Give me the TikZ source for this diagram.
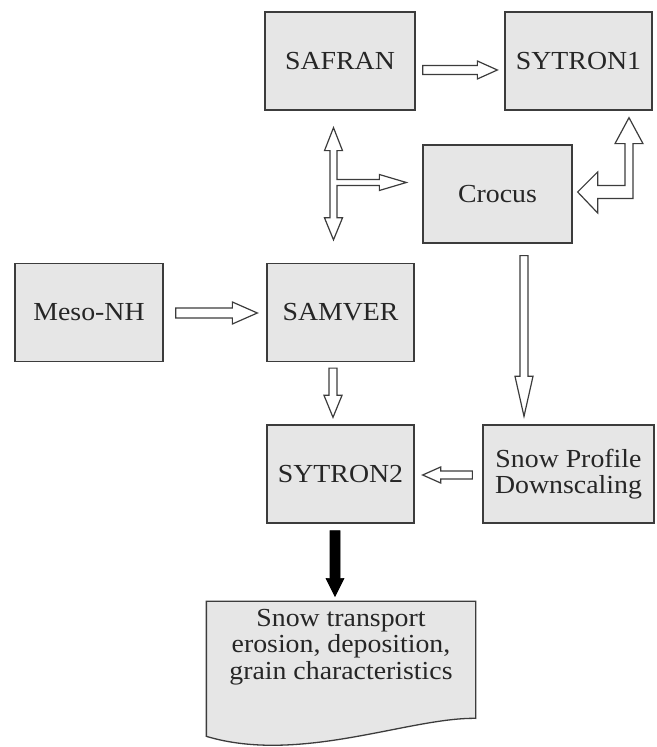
\documentclass[tikz,border=0pt]{standalone}
\usepackage{fontspec}
\setmainfont{Liberation Serif}[FakeStretch=1.07]
\usetikzlibrary{calc,backgrounds}
\definecolor{boxfill}{HTML}{E6E6E6}
\definecolor{boxline}{HTML}{3C3C3C}
\definecolor{txt}{HTML}{262626}
\tikzset{
  box/.style={draw=boxline, fill=boxfill, line width=1.3pt, inner sep=0pt,
    minimum height=98pt, align=center, text=txt,
    font=\fontsize{26}{26.5}\selectfont},
  blockarr/.style={draw=boxline, fill=white, line width=1.2pt, line join=miter},
  solidarr/.style={draw=black, fill=black, line width=0.6pt}
}
% #1 style, #2 start, #3 end, #4 shaft half width, #5 head half width, #6 head length
\newcommand\barrow[6]{%
  \path[#1] let \p1=(#2), \p2=(#3), \n1={atan2(\y2-\y1,\x2-\x1)},
      \n2={veclen(\x2-\x1,\y2-\y1)} in
    ($(\p1)+(\n1+90:#4)$) -- ++(\n1:\n2-#6) -- ++(\n1+90:#5-#4) -- (\p2)
    -- ($(\p2)+(\n1+180:#6)+(\n1-90:#5)$) -- ++(\n1+90:#5-#4)
    -- ++(\n1+180:\n2-#6) -- cycle;}
\begin{document}
\begin{tikzpicture}[x=1pt,y=1pt]
\useasboundingbox (0,0) rectangle (656,747);
\begin{scope}[shift={(0,747)}, yscale=-1]
  \node[box, minimum width=150pt] (safran) at (340,61) {SAFRAN};
  \node[box, minimum width=147pt] (sytron1) at (578.5,61) {SYTRON1};
  \node[box, minimum width=149pt] (crocus) at (497.5,194) {Crocus};
  \node[box, minimum width=148pt] (meso) at (89,312.5) {Meso-NH};
  \node[box, minimum width=147pt] (samver) at (340.5,312.5) {SAMVER};
  \node[box, minimum width=147pt] (sytron2) at (340.5,474) {SYTRON2};
  \node[box, minimum width=171pt] (snow) at (568.5,474) {Snow Profile\\Downscaling};
  \node[box, draw=none, fill=none, minimum width=268pt, minimum height=90pt]
    (out) at (341,647) {Snow transport\\erosion, deposition,\\grain characteristics};
\end{scope}
\begin{scope}[on background layer]
  \draw[draw=boxline, fill=boxfill, line width=1.3pt]
    (out.north west) -- (out.north east) -- ([yshift=-117pt]out.north east)
    .. controls ($(out.north west)+(203,-116)$) and ($(out.north west)+(93,-163)$)
    .. ([yshift=-135pt]out.north west) -- cycle;
\end{scope}
% straight block arrows
\barrow{blockarr}{[xshift=7pt,yshift=-9pt]safran.east}{[xshift=-7pt,yshift=-9pt]sytron1.west}{4.5}{9}{20}
\barrow{blockarr}{[xshift=12pt,yshift=-0.5pt]meso.east}{[xshift=-9pt,yshift=-0.5pt]samver.west}{5}{11}{25}
\barrow{blockarr}{[xshift=26.5pt,yshift=-12pt]crocus.south}{[xshift=-44.5pt,yshift=8pt]snow.north}{4}{9}{40}
\barrow{blockarr}{[xshift=-7.5pt,yshift=-6pt]samver.south}{[xshift=-7.5pt,yshift=7pt]sytron2.north}{4}{9}{22}
\barrow{blockarr}{[xshift=-10pt,yshift=-1pt]snow.west}{[xshift=8pt,yshift=-1pt]sytron2.east}{4}{8}{18}
\barrow{solidarr}{[xshift=-5.5pt,yshift=-7pt]sytron2.south}{[xshift=-6pt,yshift=5pt]out.north}{5}{9}{18}
% T-shaped double arrow: SAFRAN <-> SAMVER, branch to Crocus
\coordinate (tT) at ([xshift=-6.5pt,yshift=-17pt]safran.south);
\coordinate (tB) at ([xshift=-7pt,yshift=23pt]samver.north);
\coordinate (tR) at ([xshift=-16pt,yshift=11.5pt]crocus.west);
\path[blockarr] let \p1=(tT), \p2=(tB), \p3=(tR) in
  (\x1,\y1) -- (\x1+9,\y1-23) -- (\x1+3.5,\y1-23) -- (\x1+3.5,\y3+3)
  -- (\x3-27,\y3+3) -- (\x3-27,\y3+8) -- (\x3,\y3) -- (\x3-27,\y3-8)
  -- (\x3-27,\y3-3) -- (\x1+3.5,\y3-3) -- (\x1+3.5,\y2+22) -- (\x1+9,\y2+22)
  -- (\x2,\y2) -- (\x1-9,\y2+22) -- (\x1-3.5,\y2+22) -- (\x1-3.5,\y1-23)
  -- (\x1-9,\y1-23) -- cycle;
% L-shaped double arrow: Crocus <-> SYTRON1
\coordinate (lU) at ([xshift=50.5pt,yshift=-7pt]sytron1.south);
\coordinate (lL) at ([xshift=5pt,yshift=2pt]crocus.east);
\path[blockarr] let \p1=(lU), \p2=(lL) in
  (\x1,\y1) -- (\x1+14,\y1-26) -- (\x1+4,\y1-26) -- (\x1+4,\y2-6.5)
  -- (\x2+20,\y2-6.5) -- (\x2+20,\y2-21) -- (\x2,\y2) -- (\x2+20,\y2+20)
  -- (\x2+20,\y2+6.5) -- (\x1-4,\y2+6.5) -- (\x1-4,\y1-26) -- (\x1-14,\y1-26)
  -- cycle;
\end{tikzpicture}
\end{document}
